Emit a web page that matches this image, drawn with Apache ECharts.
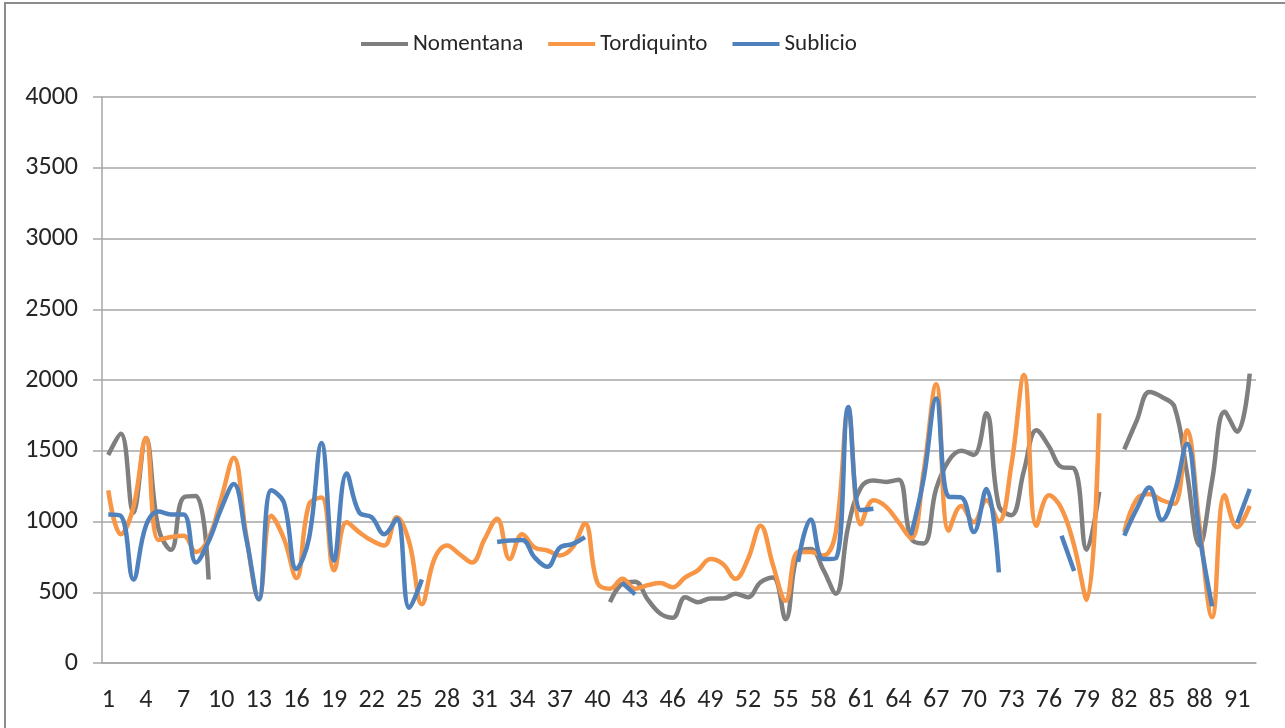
<!DOCTYPE html>
<html>
<head>
<meta charset="utf-8">
<script src="https://cdn.jsdelivr.net/npm/echarts@6/dist/echarts.min.js"></script>
<style>
  html, body { margin: 0; padding: 0; background: #fff; }
  #chart { width: 1285px; height: 728px; }
</style>
</head>
<body>
<div id="chart"></div>
<script>
var days = [];
for (var d = 1; d <= 92; d++) days.push(String(d));

var nomentana = [1470, 1620, 1060, 1590, 950, 800, 1170, 1180, 590,
  null, null, null, null, null, null, null, null, null, null,
  null, null, null, null, null, null, null, null, null, null,
  null, null, null, null, null, null, null, null, null, null, null,
  430, 560, 575, 450, 350, 320, 465, 430, 455, 455,
  490, 465, 570, 605, 310, 780, 805, 660, 490, 970,
  1240, 1290, 1280, 1295, 880, 845, 1230, 1430, 1500, 1470,
  1765, 1110, 1045, 1360, 1645, 1530, 1385, 1375, 800, 1210,
  null, 1510, 1715, 1915, 1880, 1810, 1340, 830, 1290, 1775,
  1635, 2045];

var tordiquinto = [1220, 910, 1100, 1590, 870, 890, 900, 785, 880, 1160,
  1450, 900, 450, 1040, 880, 600, 1120, 1170, 655, 995,
  925, 865, 830, 1030, 850, 415, 735, 830, 770, 710,
  875, 1020, 735, 910, 815, 795, 760, 815, 985, 565,
  525, 595, 525, 550, 565, 535, 605, 655, 735, 700,
  595, 735, 970, 690, 440, 785, 785, 760, 925, 1780,
  980, 1150, 1105, 995, 880, 1350, 1970, 935, 1110, 995,
  1150, 1000, 1400, 2035, 970, 1185, 1090, 830, 445, 1765,
  null, 925, 1160, 1195, 1150, 1125, 1645, 970, 325, 1185,
  960, 1110];

var sublicio = [1050, 1040, 590, 970, 1070, 1050, 1050, 710, 860, 1090,
  1265, 880, 450, 1220, 1135, 665, 880, 1555, 725, 1340,
  1065, 1030, 910, 1020, 390, 590, null, null, null, null,
  null, 855, 865, 870, 745, 680, 815, 840, 890, null,
  null, 565, 485, null, null, null, null, null, null, null,
  null, null, null, null, null, 715, 1015, 735, 740, 1810,
  1080, 1090, null, null, 905, 1300, 1870, 1175, 1170, 925,
  1230, 640, null, null, null, null, 900, 650, null, null,
  null, 900, 1090, 1240, 1010, 1205, 1550, 900, 400, null,
  990, 1230];

var chart = echarts.init(document.getElementById('chart'));
var font = 'Carlito, Calibri, Lato, sans-serif';

function lineSeries(name, data, color) {
  return {
    name: name,
    type: 'line',
    data: data,
    smooth: 0.4,
    showSymbol: false,
    connectNulls: false,
    lineStyle: { color: color, width: 4.5 },
    itemStyle: { color: color }
  };
}

var option = {
  animation: false,
  graphic: [{
    type: 'rect',
    shape: { x: 5, y: 3, width: 1400, height: 900 },
    style: { fill: 'none', stroke: '#8c8c8c', lineWidth: 2 }
  }],
  legend: {
    left: 361,
    top: 31,
    padding: 0,
    icon: 'rect',
    itemWidth: 47,
    itemHeight: 4,
    itemGap: 25,
    textStyle: { fontFamily: font, fontSize: 23, color: '#262626', lineHeight: 26 }
  },
  grid: { left: 102, right: 29, top: 97, bottom: 65 },
  xAxis: {
    type: 'category',
    data: days,
    boundaryGap: true,
    axisLine: { lineStyle: { color: '#a6a6a6', width: 1.5 } },
    axisTick: { interval: 0, length: 9, lineStyle: { color: '#a6a6a6', width: 1.5 } },
    axisLabel: { interval: 2, margin: 24, fontFamily: font, fontSize: 26, color: '#262626' }
  },
  yAxis: {
    type: 'value',
    min: 0,
    max: 4000,
    interval: 500,
    axisLine: { show: true, lineStyle: { color: '#a6a6a6', width: 1.5 } },
    axisTick: { show: true, length: 9, lineStyle: { color: '#a6a6a6', width: 1.5 } },
    splitLine: { lineStyle: { color: '#a6a6a6', width: 1.5 } },
    axisLabel: {
      margin: 24, fontFamily: font, fontSize: 26, color: '#262626',
      formatter: function (v) { return String(v); }
    }
  },
  series: [
    lineSeries('Nomentana', nomentana, '#7f7f7f'),
    lineSeries('Tordiquinto', tordiquinto, '#f79646'),
    lineSeries('Sublicio', sublicio, '#4f81bd')
  ]
};

chart.setOption(option);
</script>
</body>
</html>
